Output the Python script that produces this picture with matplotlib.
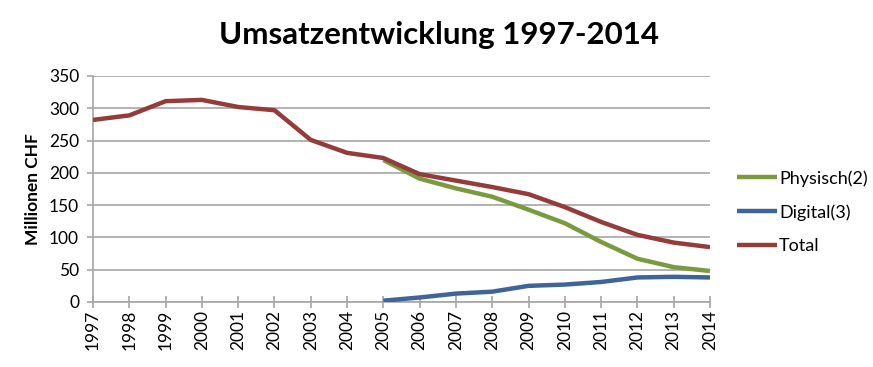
import matplotlib
matplotlib.use("Agg")
import matplotlib.pyplot as plt

years = list(range(1997, 2015))
total = [282, 289, 311, 313, 302, 297, 251, 231, 223, 198, 188, 178, 167, 147, 124, 104, 92, 85]
phys_years = list(range(2005, 2015))
physisch = [220, 191, 176, 163, 143, 122, 93, 67, 54, 48]
digital = [2, 7, 13, 16, 25, 27, 31, 38, 39, 38]
yticks = [0, 50, 100, 150, 200, 250, 300, 350]

plt.rcParams['font.family'] = ['Lato', 'DejaVu Sans']

fig = plt.figure(figsize=(8.73, 3.67), dpi=100)
ax = fig.add_axes([93/873, 1-302/367, (710-93)/873, (302-76)/367])

c_phys = '#7A9A3E'
c_dig = '#3F6598'
c_tot = '#943C3A'

ax.plot(phys_years, physisch, color=c_phys, lw=3.2, label='Physisch(2)', solid_capstyle='butt', zorder=3)
ax.plot(phys_years, digital, color=c_dig, lw=3.2, label='Digital(3)', solid_capstyle='butt', zorder=3)
ax.plot(years, total, color=c_tot, lw=3.2, label='Total', solid_capstyle='butt', zorder=4)

ax.set_xlim(1997, 2014)
ax.set_ylim(0, 350)
ax.set_yticks(yticks)
ax.set_xticks(years)
ax.set_xticklabels([str(y) for y in years], rotation=90)
ax.grid(axis='y', color='#A6A6A6', lw=1.2)
ax.set_axisbelow(True)
for s in ['top', 'right']:
    ax.spines[s].set_visible(False)
for s in ['left', 'bottom']:
    ax.spines[s].set_color('#A6A6A6')
    ax.spines[s].set_linewidth(1.2)
ax.tick_params(axis='x', direction='inout', length=9, color='#A6A6A6', width=1.2, labelsize=12.5, pad=1)
ax.tick_params(axis='y', direction='out', length=4, color='#A6A6A6', width=1.2, labelsize=12.5, pad=6)
ax.set_ylabel('Millionen CHF', fontsize=12.5, fontweight='bold', labelpad=6)

fig.text(0.503, 0.905, 'Umsatzentwicklung 1997-2014', ha='center', va='center', fontsize=22.5, fontweight='bold')

leg = ax.legend(loc='center left', bbox_to_anchor=(1.018, 0.398), frameon=False, fontsize=13,
                handlelength=2.2, handletextpad=0.1, labelspacing=0.97)

fig.savefig('out.png', dpi=100)
